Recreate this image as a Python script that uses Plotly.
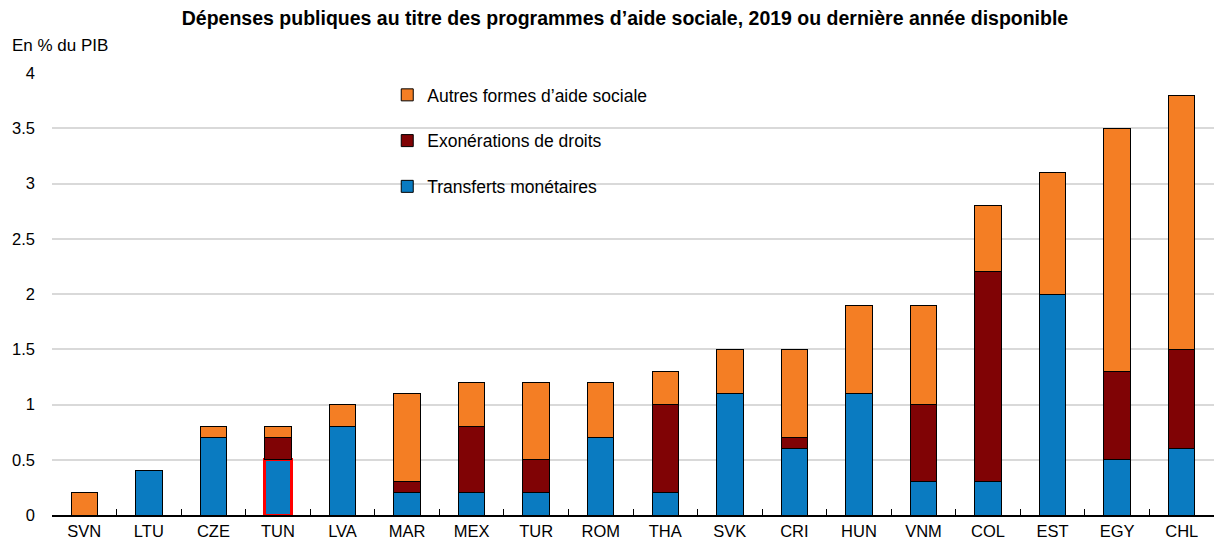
import plotly.graph_objects as go

countries = ["SVN", "LTU", "CZE", "TUN", "LVA", "MAR", "MEX", "TUR", "ROM", "THA",
             "SVK", "CRI", "HUN", "VNM", "COL", "EST", "EGY", "CHL"]
transferts = [0, 0.4, 0.7, 0.5, 0.8, 0.2, 0.2, 0.2, 0.7, 0.2, 1.1, 0.6, 1.1, 0.3, 0.3, 2.0, 0.5, 0.6]
exonerations = [0, 0, 0, 0.2, 0, 0.1, 0.6, 0.3, 0, 0.8, 0, 0.1, 0, 0.7, 1.9, 0, 0.8, 0.9]
autres = [0.2, 0, 0.1, 0.1, 0.2, 0.8, 0.4, 0.7, 0.5, 0.3, 0.4, 0.8, 0.8, 0.9, 0.6, 1.1, 2.2, 2.3]
highlight = "TUN"

font_family = "Liberation Sans, Arial, sans-serif"

def nz(vals):
    return [v if v else None for v in vals]

fig = go.Figure()
line_colors = ["#FF0000" if c == highlight else "#000000" for c in countries]
line_widths = [3 if c == highlight else 1 for c in countries]

fig.add_trace(go.Bar(
    x=countries, y=nz(transferts), name="Transferts monétaires",
    marker=dict(color="#0A7BC1", line=dict(color=line_colors, width=line_widths)),
    legendgroup="t", legendrank=3, width=0.41,
))
fig.add_trace(go.Bar(
    x=countries, y=nz(exonerations), name="Exonérations de droits",
    marker=dict(color="#800305", line=dict(color="#000000", width=1)),
    legendgroup="e", legendrank=2, width=0.41,
))
fig.add_trace(go.Bar(
    x=countries, y=nz(autres), name="Autres formes d’aide sociale",
    marker=dict(color="#F47E24", line=dict(color="#000000", width=1)),
    legendgroup="a", legendrank=1, width=0.41,
))

fig.update_layout(
    barmode="stack",
    width=1217, height=542,
    margin=dict(l=52, r=3, t=73, b=27),
    paper_bgcolor="white", plot_bgcolor="white",
    font=dict(family=font_family, size=16.5, color="#000000"),
    title=dict(text="<b>Dépenses publiques au titre des programmes d’aide sociale, 2019 ou dernière année disponible</b>",
               x=625 / 1217, xanchor="center", y=1 - 18 / 542, yanchor="middle",
               font=dict(size=19.5, family=font_family)),
    legend=dict(x=0.2885, y=0.991, xanchor="left", yanchor="top",
                bgcolor="rgba(0,0,0,0)", traceorder="grouped",
                tracegroupgap=20, font=dict(size=17.5), itemwidth=30),
    showlegend=True,
    xaxis=dict(showline=True, linecolor="#000000", linewidth=1.5,
               ticks="inside", ticklen=6, tickcolor="#000000",
               tickson="boundaries", showgrid=False, tickfont=dict(size=16.5),
               automargin=False),
    yaxis=dict(range=[0, 4], dtick=0.5, showgrid=True, gridcolor="#D9D9D9",
               gridwidth=1.5, zeroline=False, showline=False,
               ticklabelstandoff=16, tickfont=dict(size=16.5),
               tickformat="~g", automargin=False),
    annotations=[dict(text="En % du PIB", xref="paper", yref="paper",
                      x=-0.036, y=1.0, yshift=28, xanchor="left", yanchor="middle",
                      showarrow=False, font=dict(size=17))],
)

fig.write_html("out.html", config={"displayModeBar": False},
               post_script="document.body.style.margin='0';")
